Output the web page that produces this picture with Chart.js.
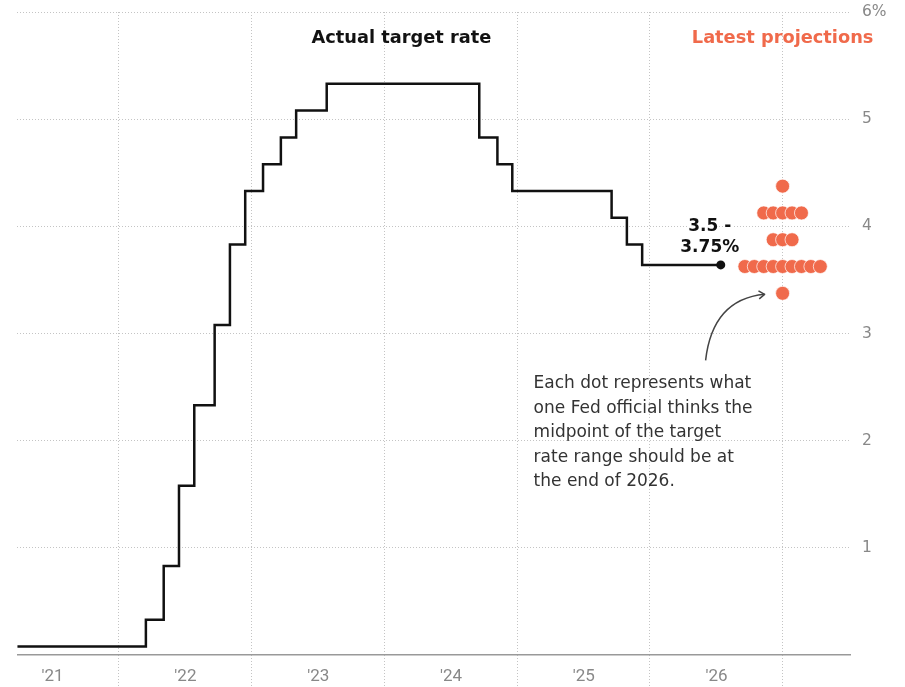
<!DOCTYPE html>
<html><head><meta charset="utf-8">
<script src="https://cdn.jsdelivr.net/npm/chart.js@4/dist/chart.umd.min.js"></script>
<style>html,body{margin:0;padding:0;background:#fff}#wrap{width:905px;height:687px;position:relative}</style>
</head><body><div id="wrap"><canvas id="c" width="905" height="687"></canvas></div>
<script>
// ---- data ----
const rateChangeDates = ['2021-03-29','2022-03-17','2022-05-05','2022-06-16','2022-07-28','2022-09-22','2022-11-03','2022-12-15','2023-02-02','2023-03-23','2023-05-04','2023-07-27','2024-09-19','2024-11-08','2024-12-19','2025-09-18','2025-10-30','2025-12-11','2026-07-15'];
const rateValues = [0.08,0.33,0.83,1.58,2.33,3.08,3.83,4.33,4.58,4.83,5.08,5.33,4.83,4.58,4.33,4.08,3.83,3.64,3.64];
const projectionValues = [4.375,4.125,4.125,4.125,4.125,4.125,3.875,3.875,3.875,3.625,3.625,3.625,3.625,3.625,3.625,3.625,3.625,3.625,3.375];
const projectionYear = 2027;
const yearLabels = ["'21","'22","'23","'24","'25","'26"];
const yearEnds = [2022,2023,2024,2025,2026,2027];
const yTickValues = [0,1,2,3,4,5,6];
const currentRangeLabel = ['3.5 -','3.75%'];
const titleLeft = 'Actual target rate';
const titleRight = 'Latest projections';
const noteLines = ['Each dot represents what','one Fed official thinks the','midpoint of the target','rate range should be at','the end of 2026.'];

// ---- helpers ----
function toYear(s){const d=new Date(s+'T00:00:00Z');const y=d.getUTCFullYear();const a=Date.UTC(y,0,1),b=Date.UTC(y+1,0,1);return y+(d-a)/(b-a);}
const ratePoints = rateChangeDates.map((d,i)=>({x:toYear(d),y:rateValues[i]}));
const DOT_STEP = 0.071; // horizontal spacing of dots, in years
const groups = {};
projectionValues.forEach(v=>{groups[v]=(groups[v]||0)+1;});
const projPoints = [];
Object.keys(groups).forEach(k=>{const n=groups[k];for(let i=0;i<n;i++){projPoints.push({x:projectionYear+(i-(n-1)/2)*DOT_STEP,y:+k});}});

const CORAL = '#f06a4b';
const GRID = '#c4c4c4';
const BOLD_FONT = '"DejaVu Sans", sans-serif';
const NOTE_FONT = '"DejaVu Sans", sans-serif';

const annot = {
  id:'annot',
  afterDatasetsDraw(chart){
    const {ctx, scales:{x,y}} = chart;
    ctx.save();
    // titles
    ctx.textBaseline='middle';
    ctx.font='bold 17.8px '+BOLD_FONT;
    ctx.fillStyle='#121212'; ctx.textAlign='center';
    ctx.fillText(titleLeft, x.getPixelForValue(2024.13), y.getPixelForValue(5.75));
    ctx.fillStyle=CORAL;
    ctx.fillText(titleRight, x.getPixelForValue(projectionYear), y.getPixelForValue(5.75));
    // current range label
    const last = ratePoints[ratePoints.length-1];
    const lx = x.getPixelForValue(last.x)-11, ly = y.getPixelForValue(last.y);
    ctx.font='bold 17px '+BOLD_FONT;
    ctx.lineJoin='round'; ctx.strokeStyle='#fff'; ctx.lineWidth=4; ctx.fillStyle='#111';
    currentRangeLabel.forEach((t,i)=>{const yy=ly-38+i*21;ctx.strokeText(t,lx,yy);ctx.fillText(t,lx,yy);});
    // note
    ctx.font='17px '+NOTE_FONT; ctx.fillStyle='#333'; ctx.textAlign='left'; ctx.textBaseline='alphabetic';
    const minP = Math.min(...projectionValues);
    const bx = x.getPixelForValue(projectionYear), by = y.getPixelForValue(minP);
    noteLines.forEach((t,i)=>ctx.fillText(t, bx-249, by+95+i*24.4));
    // arrow
    const sx=bx-77, sy=by+67, ex=bx-18, ey=by+1, cx=bx-70, cy=by+6;
    ctx.strokeStyle='#444'; ctx.lineWidth=1.5; ctx.beginPath();
    ctx.moveTo(sx,sy); ctx.quadraticCurveTo(cx,cy,ex,ey); ctx.stroke();
    const ang=Math.atan2(ey-cy,ex-cx);
    ctx.beginPath();
    ctx.moveTo(ex-7*Math.cos(ang-0.6),ey-7*Math.sin(ang-0.6));
    ctx.lineTo(ex,ey);
    ctx.lineTo(ex-7*Math.cos(ang+0.6),ey-7*Math.sin(ang+0.6));
    ctx.stroke();
    ctx.restore();
  }
};

new Chart(document.getElementById('c'),{
  data:{datasets:[
    {type:'line',data:ratePoints,stepped:'before',borderColor:'#111',borderWidth:2.5,
     pointRadius:c=>c.dataIndex===ratePoints.length-1?4.5:0,pointBackgroundColor:'#111',pointBorderWidth:0,order:2},
    {type:'scatter',data:projPoints,backgroundColor:CORAL,borderColor:'rgba(255,255,255,0.7)',borderWidth:1,pointRadius:7,order:1}
  ]},
  options:{
    responsive:false,animation:false,devicePixelRatio:1,
    layout:{padding:{left:17,top:12,right:0,bottom:0}},
    plugins:{legend:{display:false},tooltip:{enabled:false}},
    scales:{
      x:{type:'linear',position:'bottom',min:2021.235,max:2027.515,
        afterBuildTicks:a=>{a.ticks=yearEnds.map(v=>({value:v}));},
        afterFit:s=>{s.height=32;s.paddingLeft=0;s.paddingRight=0;},
        ticks:{callback:(v,i)=>yearLabels[i],labelOffset:-66,padding:-20,autoSkip:false,maxRotation:0,
          color:'#888',font:{family:'"Liberation Sans Narrow", Roboto, sans-serif',size:17}},
        grid:{color:GRID,lineWidth:1,drawTicks:true,tickLength:32,tickColor:GRID,tickBorderDash:[1,2]},
        border:{display:false,dash:[1,2]}
      },
      y:{position:'right',min:0,max:6,
        afterBuildTicks:a=>{a.ticks=yTickValues.map(v=>({value:v}));},
        afterFit:s=>{s.width=54;s.paddingTop=0;s.paddingBottom=0;},
        ticks:{callback:v=>v===0?'':(v===6?'6%':String(v)),padding:11,color:'#888',font:{family:'"DejaVu Sans", sans-serif',size:15.5}},
        grid:{drawTicks:false,color:c=>c.tick&&c.tick.value===0?'#999':GRID,lineWidth:c=>c.tick&&c.tick.value===0?1.5:1},
        border:{display:false,dash:c=>c.tick&&c.tick.value===0?[]:[1,2]}
      }
    }
  },
  plugins:[annot]
});
</script></body></html>
